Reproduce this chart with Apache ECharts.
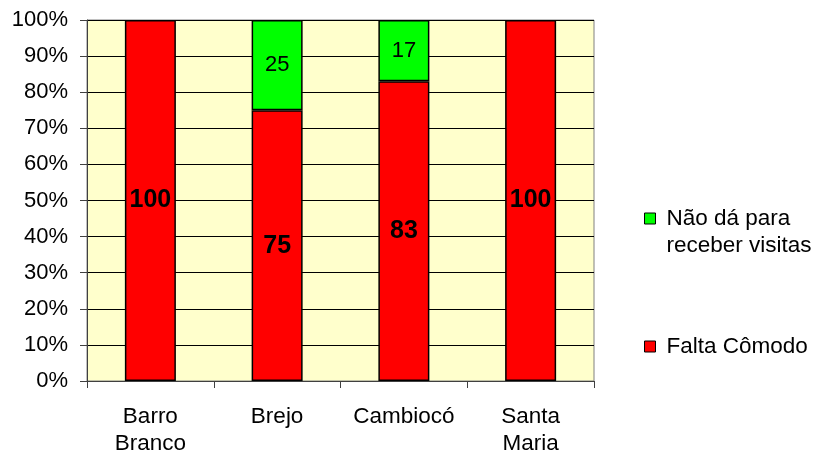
<!DOCTYPE html>
<html>
<head>
<meta charset="utf-8">
<script src="https://cdn.jsdelivr.net/npm/echarts@6/dist/echarts.min.js"></script>
<style>
  html, body { margin: 0; padding: 0; background: #fff; }
  #chart { width: 817px; height: 460px; }
</style>
</head>
<body>
<div id="chart"></div>
<script>
// Localidades e percentuais por motivo
const categories = ['Barro\nBranco', 'Brejo', 'Cambiocó', 'Santa\nMaria'];
const faltaComodo = [100, 75, 83, 100];
const naoDaVisitas = [null, 25, 17, null];
const yTicks = [0, 10, 20, 30, 40, 50, 60, 70, 80, 90, 100];

const FONT = '"Liberation Sans", Arial, sans-serif';
const chart = echarts.init(document.getElementById('chart'), null, { renderer: 'canvas' });

chart.setOption({
  animation: false,
  textStyle: { fontFamily: FONT, color: '#000' },
  grid: {
    left: 87, top: 20, right: 223, bottom: 79,
    show: true, backgroundColor: '#FFFFCC', borderColor: '#808080', borderWidth: 1
  },
  xAxis: {
    type: 'category',
    data: categories,
    axisLine: { lineStyle: { color: '#404040', width: 1 } },
    axisTick: { show: true, length: 7, lineStyle: { color: '#404040' } },
    axisLabel: { interval: 0, fontSize: 22.5, color: '#000', margin: 22, lineHeight: 27, fontFamily: FONT }
  },
  yAxis: {
    type: 'value',
    min: yTicks[0],
    max: yTicks[yTicks.length - 1],
    interval: 10,
    axisLine: { show: true, lineStyle: { color: '#404040', width: 1 } },
    axisTick: { show: true, length: 7, lineStyle: { color: '#404040' } },
    axisLabel: { fontSize: 22, color: '#000', margin: 19, formatter: '{value}%', fontFamily: FONT },
    splitLine: { show: true, lineStyle: { color: '#000', width: 1 } }
  },
  legend: [
    {
      data: ['Não dá para receber visitas'],
      left: 644, top: 178, padding: 0,
      icon: 'rect', itemWidth: 11, itemHeight: 11,
      itemStyle: { borderColor: '#000', borderWidth: 1 },
      // linha vazia no topo para alinhar o ícone à primeira linha do texto
      formatter: () => ' \nNão dá para\nreceber visitas',
      textStyle: { fontSize: 22.5, lineHeight: 27, color: '#000', fontFamily: FONT, padding: [0, 0, 0, 6] }
    },
    {
      data: ['Falta Cômodo'],
      left: 644, top: 333, padding: 0,
      icon: 'rect', itemWidth: 11, itemHeight: 11,
      itemStyle: { borderColor: '#000', borderWidth: 1 },
      textStyle: { fontSize: 22.5, lineHeight: 27, color: '#000', fontFamily: FONT, padding: [0, 0, 0, 6] }
    }
  ],
  series: [
    {
      name: 'Falta Cômodo',
      type: 'bar',
      stack: 'total',
      barWidth: 51,
      data: faltaComodo,
      itemStyle: { color: '#FF0000', borderColor: '#000', borderWidth: 1.5 },
      label: {
        show: true, position: 'inside', fontSize: 25, fontWeight: 'bold',
        color: '#000', fontFamily: FONT
      }
    },
    {
      name: 'Não dá para receber visitas',
      type: 'bar',
      stack: 'total',
      barWidth: 51,
      data: naoDaVisitas,
      itemStyle: { color: '#00FF00', borderColor: '#000', borderWidth: 1.5 },
      label: {
        show: true, position: 'inside', fontSize: 22,
        color: '#000', fontFamily: FONT
      }
    }
  ]
});
</script>
</body>
</html>
